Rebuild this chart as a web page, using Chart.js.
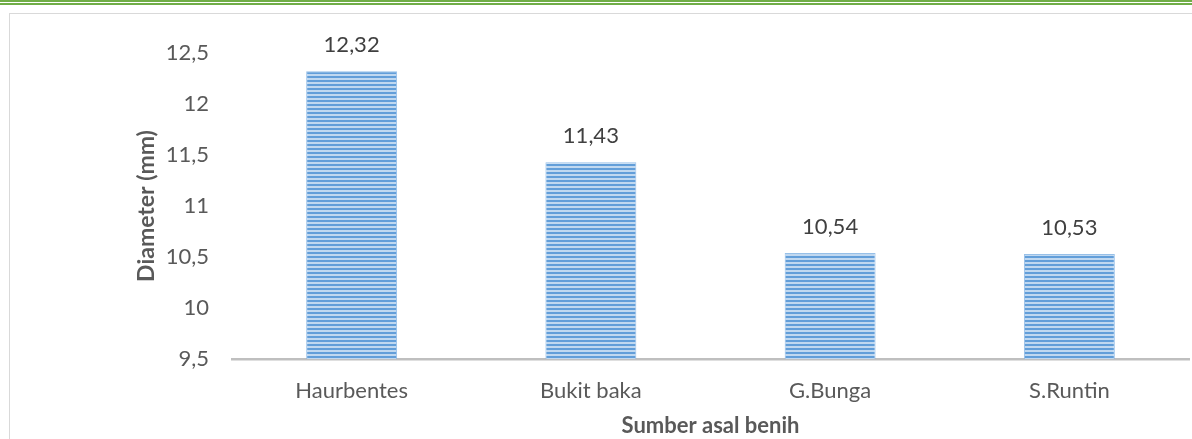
<!DOCTYPE html>
<html>
<head>
<meta charset="utf-8">
<script src="https://cdn.jsdelivr.net/npm/chart.js@4/dist/chart.umd.min.js"></script>
<style>
    html, body { margin: 0; padding: 0; background: #fff; }
    #wrap { position: relative; width: 1192px; height: 439px; overflow: hidden; }
    .green1 { position: absolute; left: 0; top: 0; width: 1192px; height: 1.5px; background: #70ad47; }
    .green2 { position: absolute; left: 0; top: 3px; width: 1192px; height: 2px; background: #70ad47; }
    .frame { position: absolute; left: 9px; top: 13px; width: 1200px; height: 440px;
             border-left: 1.5px solid #d9d9d9; border-top: 1.5px solid #d9d9d9; }
    #chart { position: absolute; left: 0; top: 0; }
</style>
</head>
<body>
<div id="wrap">
    <div class="green1"></div>
    <div class="green2"></div>
    <div class="frame"></div>
    <canvas id="chart" width="1192" height="439"></canvas>
</div>
<script>
const categories = ['Haurbentes', 'Bukit baka', 'G.Bunga', 'S.Runtin'];
const diameters = [12.32, 11.43, 10.54, 10.53];
const yTicks = [9.5, 10, 10.5, 11, 11.5, 12, 12.5];

const FONT = 'Lato, "Open Sans", sans-serif';
const TEXT = '#595959';

function comma(v) {
    return String(v).replace('.', ',');
}

// horizontal stripe fill like the original bars
function stripes() {
    const c = document.createElement('canvas');
    c.width = 4;
    c.height = 4;
    const g = c.getContext('2d');
    g.fillStyle = '#c0d8f0';
    g.fillRect(0, 0, 4, 4);
    g.fillStyle = '#629ed9';
    g.fillRect(0, 0, 4, 2);
    return g.createPattern(c, 'repeat');
}

const valueLabels = {
    id: 'valueLabels',
    afterDatasetsDraw(chart) {
        const ctx = chart.ctx;
        const meta = chart.getDatasetMeta(0);
        ctx.save();
        ctx.font = '22px ' + FONT;
        ctx.fillStyle = '#404040';
        ctx.textAlign = 'center';
        ctx.textBaseline = 'middle';
        meta.data.forEach((bar, i) => {
            ctx.fillText(comma(diameters[i]), bar.x, bar.y - 26);
        });
        ctx.restore();
    }
};

const ctx = document.getElementById('chart').getContext('2d');
new Chart(ctx, {
    type: 'bar',
    data: {
        labels: categories,
        datasets: [{
            data: diameters,
            backgroundColor: stripes(),
            borderColor: 'rgba(140, 185, 230, 0.9)',
            borderWidth: 1,
            categoryPercentage: 1,
            barPercentage: 0.38
        }]
    },
    options: {
        responsive: false,
        animation: false,
        layout: { padding: { top: 53, right: 3, left: 0, bottom: 0 } },
        plugins: {
            legend: { display: false },
            tooltip: { enabled: false }
        },
        scales: {
            x: {
                grid: { display: false, drawTicks: false },
                border: { display: true, color: '#bfbfbf', width: 2.5 },
                ticks: { color: TEXT, font: { family: FONT, size: 22 }, padding: 19 },
                title: {
                    display: true,
                    text: 'Sumber asal benih',
                    color: TEXT,
                    font: { family: FONT, size: 22, weight: 'bold' },
                    padding: { top: 0, bottom: 0 }
                },
                afterFit: (s) => { s.height = 80; }
            },
            y: {
                min: yTicks[0],
                max: yTicks[yTicks.length - 1],
                grid: { display: false, drawTicks: false },
                border: { display: false },
                afterBuildTicks: (s) => { s.ticks = yTicks.map(v => ({ value: v })); },
                ticks: {
                    color: TEXT,
                    font: { family: FONT, size: 22 },
                    padding: 23,
                    callback: (v) => comma(v)
                },
                title: {
                    display: true,
                    text: 'Diameter (mm)',
                    color: TEXT,
                    font: { family: FONT, size: 23, weight: 'bold' },
                    padding: { top: 133, bottom: 0 }
                },
                afterFit: (s) => { s.width = 232; }
            }
        }
    },
    plugins: [valueLabels]
});
</script>
</body>
</html>
